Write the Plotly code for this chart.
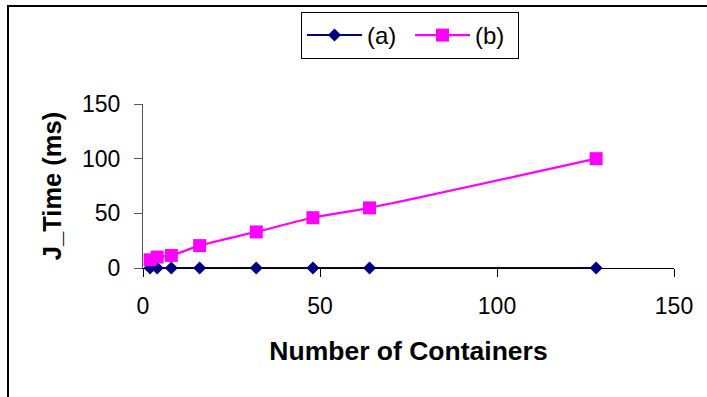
import plotly.graph_objects as go

containers = [2, 4, 8, 16, 32, 48, 64, 128]
time_a = [0, 0, 0, 0, 0, 0, 0, 0]
time_b = [7.5, 10, 11.5, 20.5, 33, 46, 55, 100]

x_ticks = [0, 50, 100, 150]
y_ticks = [0, 50, 100, 150]

FONT = "Liberation Sans, Arial, sans-serif"

fig = go.Figure()
fig.add_trace(go.Scatter(
    x=containers, y=time_a, name="(a)", mode="lines+markers",
    line=dict(color="#000080", width=2),
    marker=dict(symbol="diamond", size=10, color="#000080"),
    cliponaxis=False,
))
fig.add_trace(go.Scatter(
    x=containers, y=time_b, name="(b)", mode="lines+markers",
    line=dict(color="#FF00FF", width=2.2, shape="spline", smoothing=0.8),
    marker=dict(symbol="square", size=13, color="#FF00FF"),
    cliponaxis=False,
))

fig.update_layout(
    width=707, height=397,
    margin=dict(l=143, r=33, t=104, b=129),
    paper_bgcolor="white", plot_bgcolor="white",
    font=dict(family=FONT, size=23, color="black"),
    showlegend=True,
    legend=dict(
        orientation="h", x=0.2976, y=1.561, xanchor="left", yanchor="top",
        bordercolor="black", borderwidth=1, bgcolor="white",
        font=dict(size=24), itemwidth=55, entrywidth=38, entrywidthmode="pixels",
        tracegroupgap=0,
    ),
    xaxis=dict(
        range=[0, 150], tickvals=x_ticks, ticktext=[str(v) for v in x_ticks],
        showgrid=False, zeroline=False, showline=True, linecolor="black", linewidth=1,
        ticks="outside", ticklen=8, tickcolor="black", ticklabelstandoff=9,
        layer="below traces",
        title=dict(text="<b>Number of Containers</b>", font=dict(size=26.5), standoff=23),
    ),
    yaxis=dict(
        range=[0, 150], tickvals=y_ticks, ticktext=[str(v) for v in y_ticks],
        showgrid=False, zeroline=False, showline=True, linecolor="#555555", linewidth=1,
        ticks="outside", ticklen=8, tickcolor="#555555", ticklabelstandoff=9,
        layer="below traces",
        title=dict(text="<b>J_Time (ms)</b>", font=dict(size=25.5), standoff=13),
    ),
    shapes=[dict(
        type="rect", xref="paper", yref="paper",
        x0=(8 - 143) / 531, x1=1.2, y0=-1.0, y1=(268 - 6) / 164,
        line=dict(color="black", width=2), fillcolor="rgba(0,0,0,0)", layer="below",
    )],
)

fig.write_html(
    "out.html",
    config={"displayModeBar": False},
    post_script="document.body.style.margin='0';document.body.style.padding='0';document.body.style.overflow='hidden';",
)
